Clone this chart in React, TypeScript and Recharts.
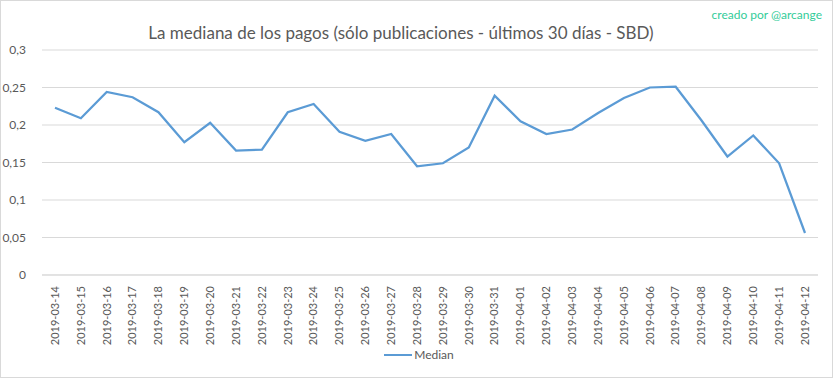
import { LineChart, Line, XAxis, YAxis, CartesianGrid, Legend } from "recharts";

// ─── Data ────────────────────────────────────────────────────────────────────

const dates = [
  "2019-03-14", "2019-03-15", "2019-03-16", "2019-03-17", "2019-03-18",
  "2019-03-19", "2019-03-20", "2019-03-21", "2019-03-22", "2019-03-23",
  "2019-03-24", "2019-03-25", "2019-03-26", "2019-03-27", "2019-03-28",
  "2019-03-29", "2019-03-30", "2019-03-31", "2019-04-01", "2019-04-02",
  "2019-04-03", "2019-04-04", "2019-04-05", "2019-04-06", "2019-04-07",
  "2019-04-08", "2019-04-09", "2019-04-10", "2019-04-11", "2019-04-12",
];

const median = [
  0.223, 0.209, 0.244, 0.237, 0.217, 0.177, 0.203, 0.166, 0.167, 0.217,
  0.228, 0.191, 0.179, 0.188, 0.145, 0.149, 0.17, 0.239, 0.205, 0.188,
  0.194, 0.216, 0.236, 0.25, 0.251, 0.206, 0.158, 0.186, 0.149, 0.056,
];

const yTicks = [0, 0.05, 0.1, 0.15, 0.2, 0.25, 0.3];

const TITLE = "La mediana de los pagos (sólo publicaciones - últimos 30 días - SBD)";
const CREDIT = "creado por @arcange";

const FONT = "Lato, 'Open Sans', sans-serif";
const TEXT = "#595959";
const LINE = "#5b9bd5";

// decimal comma, like the Spanish Excel original
function formatY(v: number): string {
  return String(+v.toFixed(2)).replace(".", ",");
}

// Excel-style legend: thin line swatch + label
function LegendContent() {
  return (
    <div
      style={{
        display: "flex",
        alignItems: "center",
        justifyContent: "center",
        fontSize: 12,
        fontFamily: FONT,
        color: TEXT,
        paddingLeft: 20,
      }}
    >
      <svg width={28} height={10} style={{ marginRight: 2 }}>
        <line x1={0} y1={5} x2={28} y2={5} stroke={LINE} strokeWidth={2} />
      </svg>
      <span>Median</span>
    </div>
  );
}

export default function App() {
  const data = dates.map((d, i) => ({ date: d, Median: median[i] }));

  return (
    <div
      style={{
        position: "absolute",
        left: 0,
        top: 0,
        width: 833,
        height: 378,
        boxSizing: "border-box",
        border: "1px solid #d9d9d9",
        background: "#fff",
        fontFamily: FONT,
      }}
    >
      {/* Title */}
      <div
        style={{
          position: "absolute",
          top: 21,
          left: 0,
          width: 800,
          textAlign: "center",
          fontSize: 17,
          color: TEXT,
        }}
      >
        {TITLE}
      </div>
      {/* Credit */}
      <div
        style={{
          position: "absolute",
          top: 6,
          right: 10,
          fontSize: 12,
          color: "#33cc99",
        }}
      >
        {CREDIT}
      </div>

      <div style={{ position: "absolute", left: -1, top: -1 }}>
        <LineChart
          width={833}
          height={378}
          data={data}
          margin={{ top: 50, right: 15, left: 0, bottom: 2 }}
        >
          <CartesianGrid stroke="#d9d9d9" vertical={false} />
          <XAxis
            dataKey="date"
            interval={0}
            angle={-90}
            textAnchor="end"
            height={72}
            padding={{ left: 13, right: 13 }}
            tickLine={false}
            axisLine={{ stroke: "#d9d9d9" }}
            tick={{ fontSize: 11, fill: TEXT, fontFamily: FONT, dx: -4, dy: 3 }}
          />
          <YAxis
            ticks={yTicks}
            domain={[0, 0.3]}
            tickFormatter={formatY}
            width={42}
            axisLine={false}
            tickLine={false}
            tick={{ fontSize: 12, fill: TEXT, fontFamily: FONT }}
            tickMargin={10}
          />
          <Legend verticalAlign="bottom" height={29} content={<LegendContent />} />
          <Line
            type="linear"
            dataKey="Median"
            stroke={LINE}
            strokeWidth={2.25}
            dot={false}
            isAnimationActive={false}
          />
        </LineChart>
      </div>
    </div>
  );
}
